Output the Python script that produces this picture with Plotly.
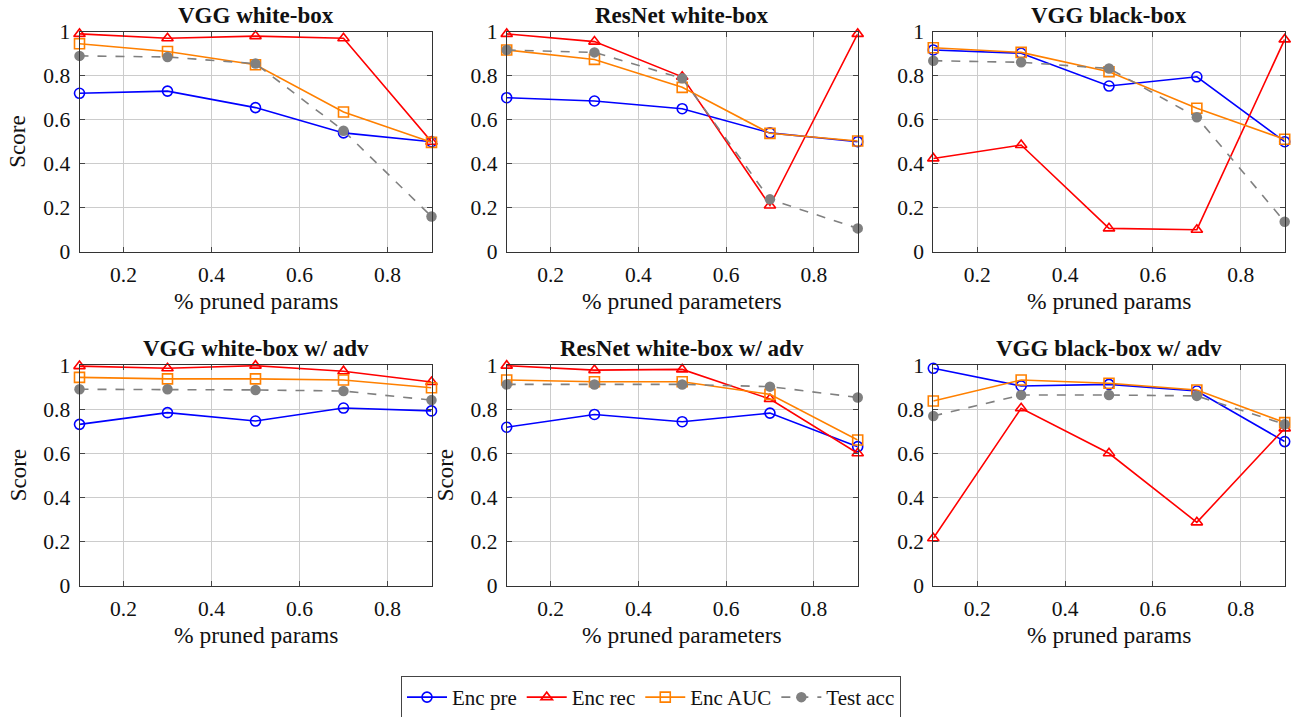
import plotly.graph_objects as go

# Fraction of pruned parameters (shared x values)
pruned = [0.1, 0.3, 0.5, 0.7, 0.9]

# VGG white-box
vgg_wb_pre = [0.72, 0.73, 0.655, 0.54, 0.50]
vgg_wb_rec = [0.99, 0.97, 0.98, 0.97, 0.50]
vgg_wb_auc = [0.945, 0.91, 0.85, 0.635, 0.497]
vgg_wb_acc = [0.89, 0.885, 0.855, 0.55, 0.16]

# ResNet white-box
res_wb_pre = [0.70, 0.685, 0.65, 0.54, 0.50]
res_wb_rec = [0.99, 0.955, 0.795, 0.21, 0.99]
res_wb_auc = [0.917, 0.874, 0.747, 0.538, 0.503]
res_wb_acc = [0.917, 0.906, 0.788, 0.238, 0.106]

# VGG black-box
vgg_bb_pre = [0.917, 0.902, 0.753, 0.795, 0.50]
vgg_bb_rec = [0.424, 0.485, 0.106, 0.10, 0.965]
vgg_bb_auc = [0.927, 0.906, 0.818, 0.652, 0.511]
vgg_bb_acc = [0.868, 0.861, 0.833, 0.611, 0.136]

# VGG white-box with adversarial training
vgg_wba_pre = [0.731, 0.784, 0.746, 0.805, 0.792]
vgg_wba_rec = [0.995, 0.985, 0.997, 0.972, 0.923]
vgg_wba_auc = [0.944, 0.937, 0.937, 0.932, 0.897]
vgg_wba_acc = [0.89, 0.89, 0.887, 0.882, 0.841]

# ResNet white-box with adversarial training
res_wba_pre = [0.718, 0.776, 0.743, 0.782, 0.63]
res_wba_rec = [0.997, 0.977, 0.98, 0.846, 0.60]
res_wba_auc = [0.932, 0.924, 0.924, 0.867, 0.66]
res_wba_acc = [0.912, 0.912, 0.912, 0.902, 0.853]

# VGG black-box with adversarial training
vgg_bba_pre = [0.985, 0.905, 0.912, 0.882, 0.653]
vgg_bba_rec = [0.215, 0.804, 0.60, 0.287, 0.713]
vgg_bba_auc = [0.837, 0.932, 0.917, 0.887, 0.739]
vgg_bba_acc = [0.769, 0.864, 0.864, 0.86, 0.731]

panel_titles = ["VGG white-box", "ResNet white-box", "VGG black-box",
                "VGG white-box w/ adv", "ResNet white-box w/ adv", "VGG black-box w/ adv"]
x_titles = ["% pruned params", "% pruned parameters", "% pruned params",
            "% pruned params", "% pruned parameters", "% pruned params"]
series_names = ["Enc pre", "Enc rec", "Enc AUC", "Test acc"]
x_ticks = [0.2, 0.4, 0.6, 0.8]
x_tick_text = ["0.2", "0.4", "0.6", "0.8"]
y_ticks = [0, 0.2, 0.4, 0.6, 0.8, 1]
y_tick_text = ["0", "0.2", "0.4", "0.6", "0.8", "1"]

panels = [
    [vgg_wb_pre, vgg_wb_rec, vgg_wb_auc, vgg_wb_acc],
    [res_wb_pre, res_wb_rec, res_wb_auc, res_wb_acc],
    [vgg_bb_pre, vgg_bb_rec, vgg_bb_auc, vgg_bb_acc],
    [vgg_wba_pre, vgg_wba_rec, vgg_wba_auc, vgg_wba_acc],
    [res_wba_pre, res_wba_rec, res_wba_auc, res_wba_acc],
    [vgg_bba_pre, vgg_bba_rec, vgg_bba_auc, vgg_bba_acc],
]

W, H = 1302, 717
FONT = "Liberation Serif, Times New Roman, serif"
INK = "#111111"

styles = [
    dict(line=dict(color="#0000ff", width=1.6),
         marker=dict(symbol="circle-open", size=10, color="#0000ff", line=dict(width=1.6))),
    dict(line=dict(color="#ff0000", width=1.6),
         marker=dict(symbol="triangle-up-open", size=10, color="#ff0000", line=dict(width=1.6))),
    dict(line=dict(color="#ff8000", width=1.6),
         marker=dict(symbol="square-open", size=10, color="#ff8000", line=dict(width=1.6))),
    dict(line=dict(color="#808080", width=1.6, dash="dash"),
         marker=dict(symbol="circle", size=10.5, color="#808080")),
]

# Plot-area placement in pixels
col_px = [(79.5, 431.5), (506.7, 857.7), (933.3, 1284.7)]
row_px = [(31.7, 251.7), (365.0, 585.7)]  # top, bottom measured from the top edge

fig = go.Figure()
annotations = []
for i, data in enumerate(panels):
    r, c = divmod(i, 3)
    n = "" if i == 0 else str(i + 1)
    x0, x1 = col_px[c]
    top, bot = row_px[r]
    xdom = [x0 / W, x1 / W]
    ydom = [(H - bot) / H, (H - top) / H]
    axis_common = dict(
        showline=True, linecolor="#333333", linewidth=1, mirror="ticks",
        ticks="inside", ticklen=5, tickcolor="#444444", tickwidth=1,
        showgrid=True, gridcolor="#cccccc", gridwidth=1, zeroline=False,
        automargin=False,
        tickfont=dict(family=FONT, size=21.5, color=INK),
    )
    fig.update_layout(**{
        f"xaxis{n}": dict(domain=xdom, range=[0.1, 0.9], anchor=f"y{n}",
                          tickvals=x_ticks, ticktext=x_tick_text,
                          ticklabelstandoff=3, **axis_common),
        f"yaxis{n}": dict(domain=ydom, range=[0, 1], anchor=f"x{n}",
                          tickvals=y_ticks, ticktext=y_tick_text,
                          ticklabelstandoff=4, **axis_common),
    })
    for k, (name, ys) in enumerate(zip(series_names, data)):
        fig.add_trace(go.Scatter(
            x=pruned, y=ys, mode="lines+markers", name=name,
            xaxis=f"x{n}", yaxis=f"y{n}", cliponaxis=False,
            showlegend=(i == 0), legendrank=k, **styles[k]))
    xc = (x0 + x1) / 2 / W
    annotations.append(dict(
        text=f"<b>{panel_titles[i]}</b>", x=xc, y=(H - (top - 16.5)) / H,
        xref="paper", yref="paper", xanchor="center", yanchor="middle",
        showarrow=False, font=dict(family=FONT, size=23, color=INK)))
    annotations.append(dict(
        text=x_titles[i], x=xc, y=(H - (bot + 49)) / H,
        xref="paper", yref="paper", xanchor="center", yanchor="middle",
        showarrow=False, font=dict(family=FONT, size=23.5, color=INK)))

# "Score" labels on the y axes
for px, top, bot in [(18, 31.7, 251.7), (18, 365.0, 585.7), (445, 365.0, 585.7)]:
    annotations.append(dict(
        text="Score", x=px / W, y=(H - (top + bot) / 2) / H, textangle=-90,
        xref="paper", yref="paper", xanchor="center", yanchor="middle",
        showarrow=False, font=dict(family=FONT, size=23, color=INK)))

fig.update_layout(
    width=W, height=H, margin=dict(l=0, r=0, t=0, b=0, autoexpand=False),
    paper_bgcolor="white", plot_bgcolor="white",
    annotations=annotations,
    legend=dict(orientation="h", x=0.5, xanchor="center", y=(H - 676) / H, yanchor="top",
                bordercolor="#444444", borderwidth=1, itemwidth=40,
                font=dict(family=FONT, size=21, color=INK),
                tracegroupgap=0, traceorder="normal"),
)

fig.write_html("out.html")
